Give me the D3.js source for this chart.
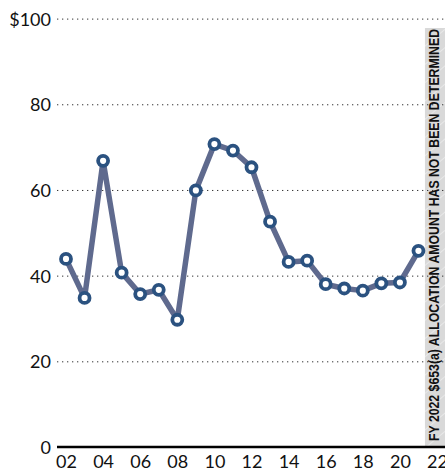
<!DOCTYPE html>
<html>
<head>
<meta charset="utf-8">
<script src="https://cdn.jsdelivr.net/npm/d3@7"></script>
<style>
  body { margin: 0; background: #fff; }
  svg text { font-family: Lato, "Liberation Sans", sans-serif; }
  svg text.note { font-family: "Liberation Sans Narrow", "Liberation Sans", sans-serif; font-weight: bold; }
</style>
</head>
<body>
<svg id="chart" width="445" height="471"></svg>
<script>
// fiscal years and allocation amounts (millions of dollars)
const years = [2002, 2003, 2004, 2005, 2006, 2007, 2008, 2009, 2010, 2011, 2012,
  2013, 2014, 2015, 2016, 2017, 2018, 2019, 2020, 2021];
const amounts = [43.9, 34.8, 66.8, 40.7, 35.7, 36.7, 29.7, 59.9, 70.7, 69.2, 65.3,
  52.6, 43.2, 43.5, 38.0, 37.0, 36.5, 38.2, 38.4, 45.8];
const yTicks = [0, 20, 40, 60, 80, 100];
const xTicks = [2002, 2004, 2006, 2008, 2010, 2012, 2014, 2016, 2018, 2020, 2022];
const noteText = 'FY 2022 $653(a) ALLOCATION AMOUNT HAS NOT BEEN DETERMINED';

const svg = d3.select('svg#chart');
const width = +svg.attr('width');
const height = +svg.attr('height');

const xScale = d3.scaleLinear().domain([2002, 2022]).range([66, 437]);
const yScale = d3.scaleLinear().domain([0, 100]).range([447, 18.6]);

const data = years.map((y, i) => ({year: y, value: amounts[i]}));

// hatched band for FY 2022
const defs = svg.append('defs');
const pat = defs.append('pattern')
  .attr('id', 'hatch')
  .attr('patternUnits', 'userSpaceOnUse')
  .attr('width', 14).attr('height', 14)
  .attr('patternTransform', 'rotate(-40)');
pat.append('rect').attr('width', 14).attr('height', 14).attr('fill', '#d9d9d9');
pat.append('line').attr('x1', 0).attr('y1', 0).attr('x2', 14).attr('y2', 0)
  .attr('stroke', '#f2f2f2').attr('stroke-width', 1.2);

const bandX = xScale(2021.35);
svg.append('rect')
  .attr('x', bandX).attr('y', 28)
  .attr('width', width - bandX).attr('height', yScale(0) - 28)
  .attr('fill', 'url(#hatch)');

// dotted gridlines + y labels
const yAxis = d3.axisLeft(yScale)
  .tickValues(yTicks)
  .tickSize(-(width - 57))
  .tickFormat(d => d === 100 ? '$100' : d);

svg.append('g')
  .attr('transform', 'translate(57,0)')
  .call(yAxis)
  .call(g => g.select('.domain').remove())
  .call(g => g.selectAll('.tick line')
    .attr('stroke', '#333')
    .attr('stroke-width', 1)
    .attr('stroke-dasharray', '1.3,3.7')
    .filter(d => d === 0).remove())
  .call(g => g.selectAll('.tick text')
    .attr('x', -6)
    .attr('dy', '0.36em')
    .attr('font-size', 18)
    .attr('fill', '#111'));

// band label
svg.append('text')
  .attr('class', 'note')
  .attr('transform', `translate(${(bandX + width) / 2 + 4.5},${yScale(0) - 6}) rotate(-90)`)
  .attr('font-size', 14)
  .attr('textLength', 412)
  .attr('lengthAdjust', 'spacingAndGlyphs')
  .attr('fill', '#111')
  .text(noteText);

// x axis
const xAxis = d3.axisBottom(xScale)
  .tickValues(xTicks)
  .tickSize(0)
  .tickFormat(d => String(d).slice(2));

svg.append('g')
  .attr('transform', `translate(0,${yScale(0)})`)
  .call(xAxis)
  .call(g => g.select('.domain').remove())
  .call(g => g.selectAll('.tick text')
    .attr('y', 8)
    .attr('dy', '0.71em')
    .attr('font-size', 18)
    .attr('fill', '#111'));

svg.append('line')
  .attr('x1', 57).attr('x2', width)
  .attr('y1', yScale(0)).attr('y2', yScale(0))
  .attr('stroke', '#000').attr('stroke-width', 2.5);

// line + markers
const line = d3.line()
  .x(d => xScale(d.year))
  .y(d => yScale(d.value));

svg.append('path')
  .datum(data)
  .attr('d', line)
  .attr('fill', 'none')
  .attr('stroke', '#5f6a8e')
  .attr('stroke-width', 5.5)
  .attr('stroke-linejoin', 'round');

svg.selectAll('circle.pt').data(data)
  .enter().append('circle')
  .attr('class', 'pt')
  .attr('cx', d => xScale(d.year))
  .attr('cy', d => yScale(d.value))
  .attr('r', 5)
  .attr('fill', '#fff')
  .attr('stroke', '#2b5280')
  .attr('stroke-width', 3.8);
</script>
</body>
</html>
